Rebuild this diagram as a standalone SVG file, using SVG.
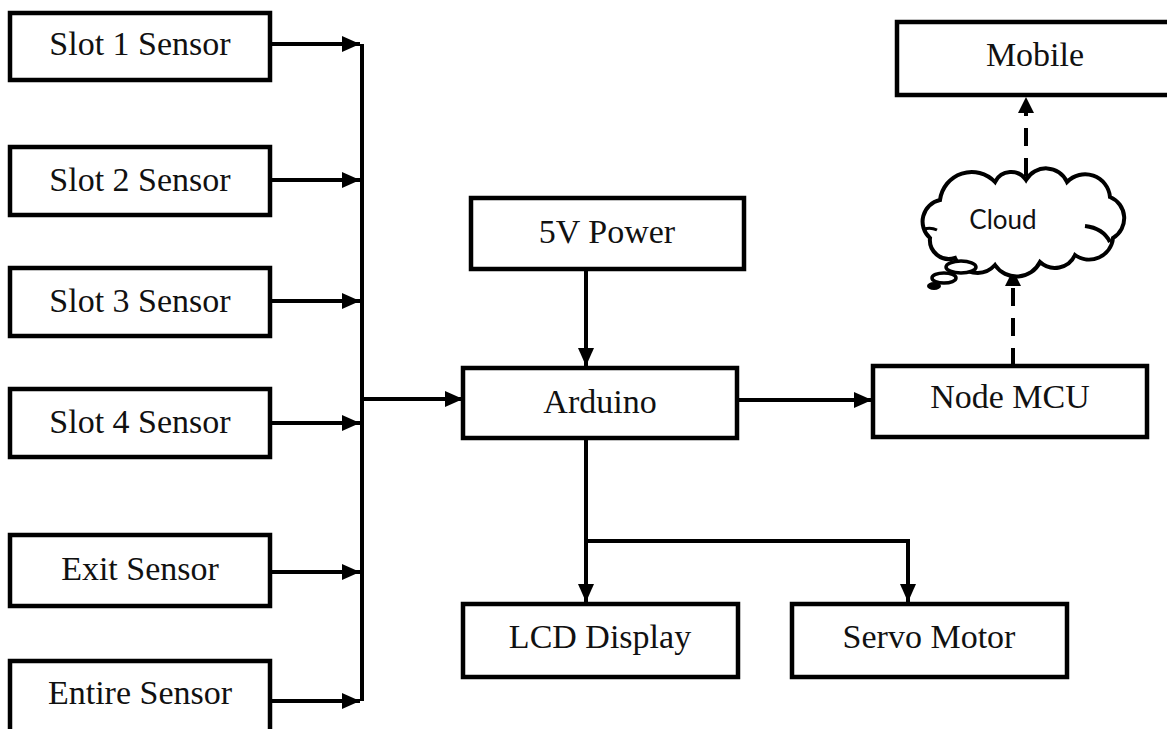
<svg xmlns="http://www.w3.org/2000/svg" width="1167" height="729" viewBox="0 0 1167 729">
<style>
.box{fill:#fff;stroke:#000;stroke-width:4.5}
.lbl{font-family:"Liberation Serif","Times New Roman",serif;font-size:34px;fill:#111;text-anchor:middle}
.cl{font-family:Lato,"Open Sans",sans-serif;font-size:26px;fill:#111;text-anchor:middle}
.ln{fill:none;stroke:#000;stroke-width:4}
.ds{fill:none;stroke:#000;stroke-width:4;stroke-dasharray:18 12}
</style>
<defs>
<marker id="ah" markerUnits="userSpaceOnUse" markerWidth="18" markerHeight="16" refX="18" refY="8" orient="auto">
<path d="M0,0 L18,8 L0,16 z" fill="#000"/>
</marker>
<marker id="ahd" markerUnits="userSpaceOnUse" markerWidth="16" markerHeight="16" refX="0" refY="8" orient="auto">
<path d="M0,0 L16,8 L0,16 z" fill="#000"/>
</marker>
</defs>
<rect width="1167" height="729" fill="#fff"/>
<g id="connectors">
<path class="ln" d="M362,44 V701"/>
<path class="ln" marker-end="url(#ah)" d="M272,44 H360"/>
<path class="ln" marker-end="url(#ah)" d="M272,180 H360"/>
<path class="ln" marker-end="url(#ah)" d="M272,301 H360"/>
<path class="ln" marker-end="url(#ah)" d="M272,423 H360"/>
<path class="ln" marker-end="url(#ah)" d="M272,572 H360"/>
<path class="ln" marker-end="url(#ah)" d="M272,701 H360"/>
<path class="ln" marker-end="url(#ah)" d="M362,399 H463"/>
<path class="ln" marker-end="url(#ah)" d="M586,269 V366"/>
<path class="ln" marker-end="url(#ah)" d="M737,400 H872"/>
<path class="ln" marker-end="url(#ah)" d="M586,438 V602"/>
<path class="ln" marker-end="url(#ah)" d="M586,541 H908 V602"/>
<path class="ds" marker-end="url(#ahd)" d="M1013,366 V286"/>
<path class="ds" marker-end="url(#ahd)" d="M1026,176 V113"/>
</g>
<g id="slot1"><rect class="box" x="10" y="13" width="260" height="67"/><text class="lbl" x="140" y="55">Slot 1 Sensor</text></g>
<g id="slot2"><rect class="box" x="10" y="147" width="260" height="68"/><text class="lbl" x="140" y="191">Slot 2 Sensor</text></g>
<g id="slot3"><rect class="box" x="10" y="268" width="260" height="68"/><text class="lbl" x="140" y="312">Slot 3 Sensor</text></g>
<g id="slot4"><rect class="box" x="10" y="389" width="260" height="68"/><text class="lbl" x="140" y="433">Slot 4 Sensor</text></g>
<g id="exit"><rect class="box" x="10" y="535" width="260" height="71"/><text class="lbl" x="140" y="580">Exit Sensor</text></g>
<g id="entire"><rect class="box" x="10" y="661" width="260" height="80"/><text class="lbl" x="140" y="704">Entire Sensor</text></g>
<g id="power"><rect class="box" x="471" y="198" width="273" height="71"/><text class="lbl" x="607" y="243">5V Power</text></g>
<g id="arduino"><rect class="box" x="463" y="368" width="274" height="70"/><text class="lbl" x="600" y="413">Arduino</text></g>
<g id="nodemcu"><rect class="box" x="873" y="366" width="274" height="71"/><text class="lbl" x="1010" y="408">Node MCU</text></g>
<g id="lcd"><rect class="box" x="463" y="604" width="275" height="73"/><text class="lbl" x="600" y="648">LCD Display</text></g>
<g id="servo"><rect class="box" x="792" y="604" width="275" height="73"/><text class="lbl" x="929" y="648">Servo Motor</text></g>
<g id="mobile"><rect class="box" x="897" y="22" width="276" height="73"/><text class="lbl" x="1035" y="66">Mobile</text></g>
<g id="cloud">
<path d="M930,238 A22,22 0 0 1 940,200 A32,32 0 0 1 995,182 A18,18 0 0 1 1026,180 A23,23 0 0 1 1067,182 A25,25 0 0 1 1110,197 A23,23 0 0 1 1113,238 A24,24 0 0 1 1075,255 A22,22 0 0 1 1040,262 A26,26 0 0 1 995,265 A24,24 0 0 1 955,258 A19,19 0 0 1 930,238 Z" fill="#fff" stroke="#000" stroke-width="4"/>
<path d="M1085,226 Q1103,228 1110,242" fill="none" stroke="#000" stroke-width="4"/>
<path d="M924,229 Q931,227 937,230" fill="none" stroke="#000" stroke-width="3"/>
<ellipse cx="961" cy="267" rx="15" ry="6" fill="#fff" stroke="#000" stroke-width="3.5"/>
<ellipse cx="944" cy="278" rx="12" ry="5" fill="#fff" stroke="#000" stroke-width="3.5"/>
<ellipse cx="934" cy="286" rx="7" ry="4" fill="#000"/>
<text class="cl" x="1003" y="229">Cloud</text>
</g>
</svg>
